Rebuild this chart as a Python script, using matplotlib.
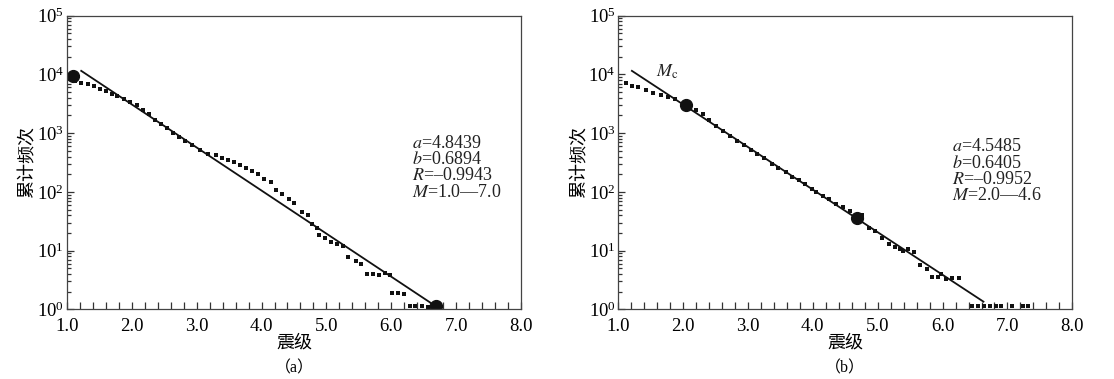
import matplotlib
matplotlib.use('Agg')
import matplotlib.pyplot as plt
import numpy as np
from matplotlib.ticker import MultipleLocator, LogLocator, NullFormatter

plt.rcParams['font.family'] = ['Liberation Serif', 'Noto Sans CJK SC']
plt.rcParams['mathtext.fontset'] = 'stix'

# panel (a): cumulative frequency vs magnitude
mag_a = [1.13, 1.22, 1.32, 1.42, 1.51, 1.60, 1.69, 1.77, 1.88, 1.97,
         2.08, 2.18, 2.27, 2.35, 2.45, 2.54, 2.63, 2.72, 2.82, 2.93,
         3.05, 3.18, 3.30, 3.39, 3.48, 3.57, 3.67, 3.76, 3.85, 3.95,
         4.04, 4.14, 4.23, 4.31, 4.42, 4.50, 4.62, 4.71, 4.78, 4.86,
         4.89, 4.98, 5.07, 5.17, 5.25, 5.34, 5.45, 5.53, 5.62, 5.72,
         5.81, 5.90, 5.98, 6.01, 6.10, 6.20, 6.29, 6.37, 6.47, 6.56]
logn_a = [3.88, 3.86, 3.84, 3.80, 3.76, 3.71, 3.67, 3.64, 3.58, 3.53,
          3.48, 3.40, 3.33, 3.23, 3.16, 3.08, 3.00, 2.94, 2.87, 2.79,
          2.71, 2.65, 2.62, 2.58, 2.54, 2.50, 2.46, 2.41, 2.36, 2.30,
          2.22, 2.17, 2.04, 1.97, 1.87, 1.81, 1.66, 1.60, 1.45, 1.38,
          1.26, 1.21, 1.15, 1.11, 1.08, 0.89, 0.83, 0.77, 0.60, 0.60,
          0.59, 0.61, 0.59, 0.27, 0.27, 0.26, 0.05, 0.05, 0.05, 0.04]
circle_a_m = [1.10, 6.69]
circle_a_n = [9.5e3, 1.12]
line_a_m = [1.22, 6.69]
line_a_n = [1.15e4, 1.12]

# panel (b)
mag_b = [1.12, 1.21, 1.30, 1.42, 1.53, 1.66, 1.77, 1.87, 2.20, 2.30,
         2.40, 2.51, 2.62, 2.72, 2.83, 2.94, 3.05, 3.14, 3.25, 3.37,
         3.47, 3.58, 3.68, 3.78, 3.88, 3.98, 4.05, 4.16, 4.25, 4.35,
         4.46, 4.57, 4.76, 4.87, 4.96, 5.07, 5.18, 5.27, 5.35, 5.39,
         5.47, 5.56, 5.65, 5.76, 5.84, 5.93, 5.98, 6.05, 6.15, 6.26,
         6.46, 6.55, 6.64, 6.73, 6.82, 6.90, 7.07, 7.24, 7.32]
logn_b = [3.85, 3.81, 3.78, 3.73, 3.69, 3.65, 3.62, 3.58, 3.39, 3.32,
          3.22, 3.12, 3.03, 2.95, 2.87, 2.79, 2.71, 2.64, 2.57, 2.47,
          2.40, 2.33, 2.25, 2.20, 2.13, 2.05, 2.00, 1.93, 1.87, 1.80,
          1.75, 1.68, 1.60, 1.38, 1.33, 1.22, 1.12, 1.06, 1.02, 0.99,
          1.03, 0.97, 0.76, 0.68, 0.55, 0.55, 0.60, 0.52, 0.53, 0.53,
          0.06, 0.06, 0.06, 0.06, 0.05, 0.06, 0.06, 0.06, 0.05]
circle_b_m = [2.04, 4.68]
circle_b_n = [3.0e3, 36.0]
line_b_m = [1.21, 6.63]
line_b_n = [1.15e4, 1.35]

texts_a = [r'$a$=4.8439', r'$b$=0.6894', r'$R$=' + '\u2013' + '0.9943', r'$M$=1.0' + '\u2014' + '7.0']
texts_b = [r'$a$=4.5485', r'$b$=0.6405', r'$R$=' + '\u2013' + '0.9952', r'$M$=2.0' + '\u2014' + '4.6']

fig = plt.figure(figsize=(11.14, 3.79), dpi=100)
ax_a = fig.add_axes([0.0601, 0.1839, 0.4076, 0.7747])
ax_b = fig.add_axes([0.5550, 0.1839, 0.4076, 0.7747])

panels = [
    (ax_a, mag_a, logn_a, circle_a_m, circle_a_n, line_a_m, line_a_n, texts_a, (0.759, 0.595), '（a）'),
    (ax_b, mag_b, logn_b, circle_b_m, circle_b_n, line_b_m, line_b_n, texts_b, (0.734, 0.582), '（b）'),
]

for ax, m, ln, cm_, cn, lm, lnn, txt, pos, tag in panels:
    ax.plot(m, 10 ** np.asarray(ln), 's', color='#111111', markersize=3.5, markeredgewidth=0)
    ax.plot(lm, lnn, '-', color='#111111', lw=1.3)
    ax.plot(cm_, cn, 'o', color='#111111', markersize=8.5)

    ax.set_yscale('log')
    ax.set_xlim(1.0, 8.0)
    ax.set_ylim(1, 1e5)
    ax.xaxis.set_major_locator(MultipleLocator(1.0))
    ax.xaxis.set_minor_locator(MultipleLocator(0.2))
    ax.xaxis.set_major_formatter(plt.FuncFormatter(lambda v, p: f'{v:.1f}'))
    ax.yaxis.set_major_locator(LogLocator(base=10, numticks=10))
    ax.yaxis.set_minor_locator(LogLocator(base=10, subs=np.arange(2, 10), numticks=10))
    ax.yaxis.set_minor_formatter(NullFormatter())

    ax.tick_params(which='both', direction='in', top=False, right=False,
                   labelsize=13.5, color='#333333', width=0.9)
    ax.tick_params(axis='x', which='both', length=5, pad=6)
    ax.tick_params(axis='y', which='major', length=5, pad=2)
    ax.tick_params(axis='y', which='minor', length=3)
    for s in ax.spines.values():
        s.set_color('#444444')
        s.set_linewidth(0.9)

    ax.set_ylabel('累计频次', fontsize=13, labelpad=0)
    ax.set_xlabel('震级', fontsize=13, labelpad=0)
    ax.text(0.5, -0.175, tag, transform=ax.transAxes, ha='center', va='top', fontsize=11.5)

    ax.text(pos[0], pos[1], '\n'.join(txt), transform=ax.transAxes, ha='left', va='top',
            fontsize=13, linespacing=0.95, color='#222222')

ax_b.text(1.75, 1.1e4, r'$M_{\rm c}$', fontsize=13, ha='center', va='center', color='#222222')

fig.savefig('out.png', dpi=100)
